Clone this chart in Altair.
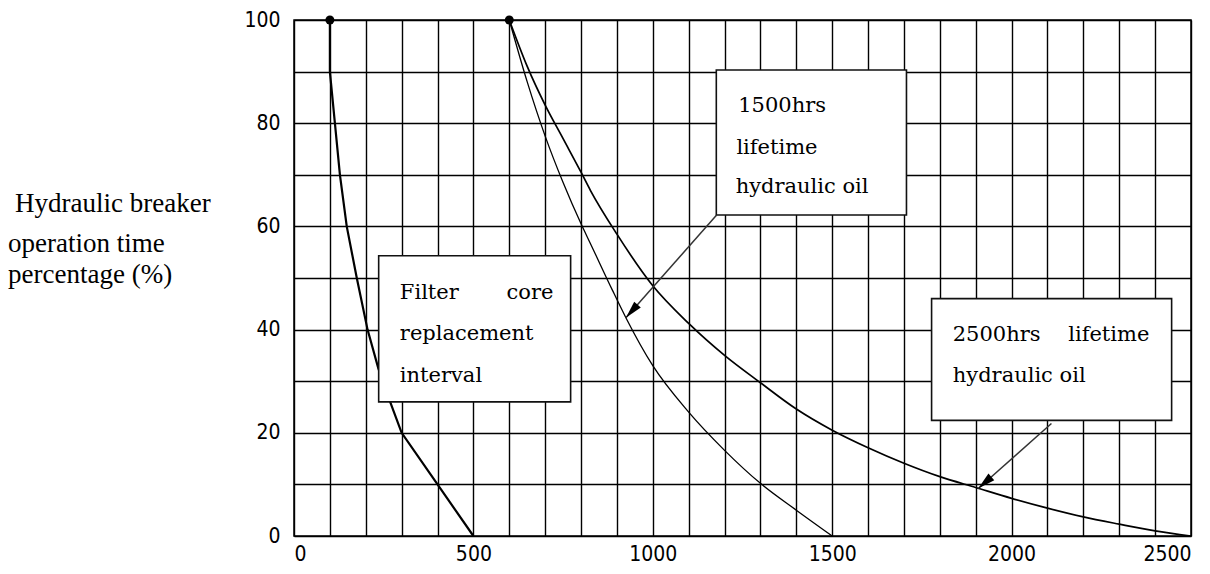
import math
import altair as alt
import pandas as pd

# Filter core replacement interval curve (hours, % operation time)
filter_hours = [100, 100, 114, 128, 147, 175, 205, 235, 268, 300, 400, 500]
filter_pct = [100, 90, 80, 70, 60, 50, 40, 32.5, 26, 20, 10, 0]

# 1500 hrs lifetime hydraulic oil curve
oil1500_hours = [600, 650, 700, 750, 800, 826, 887, 925, 1000, 1100, 1200, 1300, 1400, 1500]
oil1500_pct = [100, 88, 77.5, 68.5, 60.5, 56.7, 47.7, 42.3, 33, 24, 16.6, 10.2, 5.0, 0]

# 2500 hrs lifetime hydraulic oil curve
oil2500_hours = [600, 650, 700, 750, 800, 826, 900, 1000, 1100, 1200, 1300, 1400,
                 1500, 1600, 1700, 1800, 1900, 2000, 2100, 2200, 2300, 2400, 2500]
oil2500_pct = [100, 91, 83.5, 77, 70.5, 67, 58.5, 48.5, 41.2, 35, 29.7, 24.6,
               20.5, 17.1, 14.1, 11.5, 9.4, 7.3, 5.4, 3.7, 2.3, 1.0, 0]

# Curve start points
start_hours = [100, 600]
start_pct = [100, 100]

# Axis ticks
x_ticks = list(range(0, 2501, 100))
y_ticks = list(range(0, 101, 10))

# Annotation boxes (data units)
box_x = [236, 1177, 1777]
box_x2 = [771, 1707, 2446]
box_y = [54.3, 90.3, 46.0]
box_y2 = [26.0, 62.2, 22.4]

# Annotation text lines (data units)
left_text = ["Filter", "replacement", "interval",
             "1500hrs", "lifetime", "hydraulic oil",
             "2500hrs", "hydraulic oil"]
left_x = [295, 295, 295, 1238, 1233, 1231, 1836, 1836]
left_y = [46.0, 37.9, 29.9, 82.2, 74.0, 66.4, 37.75, 29.9]
right_text = ["core", "lifetime"]
right_x = [723, 2384]
right_y = [46.0, 37.75]

# Arrows: start -> tip (data units)
arrow_x = [1178, 2111]
arrow_y = [62.2, 21.8]
tip_x = [925, 1907]
tip_y = [42.3, 9.2]

W, H = 897, 516
X_MAX, Y_MAX = 2500, 100

def curve(hours, pct):
    return pd.DataFrame({"hours": hours, "pct": pct, "order": range(len(hours))})

x_enc = alt.X("hours:Q", scale=alt.Scale(domain=[0, X_MAX], nice=False),
              axis=alt.Axis(values=x_ticks, grid=True, ticks=False, domain=False,
                            labelExpr="datum.value % 500 === 0 ? '' + datum.value : ''",
                            labelFlush=True, labelPadding=7, title=None))
y_enc = alt.Y("pct:Q", scale=alt.Scale(domain=[0, Y_MAX], nice=False),
              axis=alt.Axis(values=y_ticks, grid=True, ticks=False, domain=False,
                            labelExpr="datum.value % 20 === 0 ? '' + datum.value : ''",
                            labelPadding=14, title=None))

def line_layer(df, width, interp="linear"):
    return alt.Chart(df).mark_line(color="black", strokeWidth=width,
                                   interpolate=interp).encode(
        x=x_enc, y=y_enc, order="order:Q")

filter_line = line_layer(curve(filter_hours, filter_pct), 2.2)
oil1500_line = line_layer(curve(oil1500_hours, oil1500_pct), 1.3, "monotone")
oil2500_line = line_layer(curve(oil2500_hours, oil2500_pct), 1.7, "monotone")

dots = alt.Chart(pd.DataFrame({"hours": start_hours, "pct": start_pct})).mark_point(
    filled=True, color="black", size=80, opacity=1).encode(x=x_enc, y=y_enc)

boxes = alt.Chart(pd.DataFrame({"hours": box_x, "hours2": box_x2,
                                "pct": box_y, "pct2": box_y2})).mark_rect(
    fill="white", stroke="#111", strokeWidth=1.6).encode(
    x=x_enc, x2="hours2:Q", y=y_enc, y2="pct2:Q")

text_style = dict(font="DejaVu Serif", fontSize=21, color="black", baseline="alphabetic")
labels_left = alt.Chart(pd.DataFrame({"t": left_text, "hours": left_x, "pct": left_y})).mark_text(
    align="left", **text_style).encode(x=x_enc, y=y_enc, text="t:N")
labels_right = alt.Chart(pd.DataFrame({"t": right_text, "hours": right_x, "pct": right_y})).mark_text(
    align="right", **text_style).encode(x=x_enc, y=y_enc, text="t:N")

# Arrow heads point along the shaft in screen space
angles = []
for x0, y0, x1, y1 in zip(arrow_x, arrow_y, tip_x, tip_y):
    dx = (x1 - x0) * W / X_MAX
    dy = -(y1 - y0) * H / Y_MAX
    angles.append(math.degrees(math.atan2(dx, -dy)) % 360)

shaft_df = pd.DataFrame({"hours": arrow_x, "pct": arrow_y, "hours2": tip_x, "pct2": tip_y})
head_df = pd.DataFrame({"hours": tip_x, "pct": tip_y, "angle": angles})
shafts = alt.Chart(shaft_df).mark_rule(color="#333", strokeWidth=1.5).encode(
    x=x_enc, y=y_enc, x2="hours2:Q", y2="pct2:Q")
heads = alt.Chart(head_df).mark_point(
    shape="M0,0L-0.45,1.8L0.45,1.8Z", filled=True, color="black", size=380, opacity=1).encode(
    x=x_enc, y=y_enc, angle=alt.Angle("angle:Q", scale=None))

# Left-hand description of the vertical axis
title_font = dict(font="Liberation Serif", fontSize=27, color="black",
                  align="left", baseline="alphabetic")
one = alt.Data(values=[{}])
ytitle1 = alt.Chart(one).mark_text(text="Hydraulic breaker", x=-279, y=191.7, **title_font)
ytitle2 = alt.Chart(one).mark_text(text="operation time", x=-286, y=231.7, **title_font)
ytitle3 = alt.Chart(one).mark_text(text="percentage (%)", x=-286, y=263.3, **title_font)

chart = alt.layer(
    filter_line, oil1500_line, oil2500_line, dots, boxes,
    labels_left, labels_right, shafts, heads, ytitle1, ytitle2, ytitle3
).properties(
    width=W, height=H,
    background="white",
    autosize=alt.AutoSizeParams(type="none"),
    padding={"left": 294, "top": 20, "right": 19, "bottom": 38},
).configure_view(
    stroke="black", strokeWidth=1.5
).configure_axis(
    gridColor="black", gridWidth=1.4, gridOpacity=1,
    labelFont="DejaVu Sans Condensed, DejaVu Sans",
    labelFontSize=21, labelColor="black"
)

chart.save("out.html", embed_options={"renderer": "svg", "actions": False})
